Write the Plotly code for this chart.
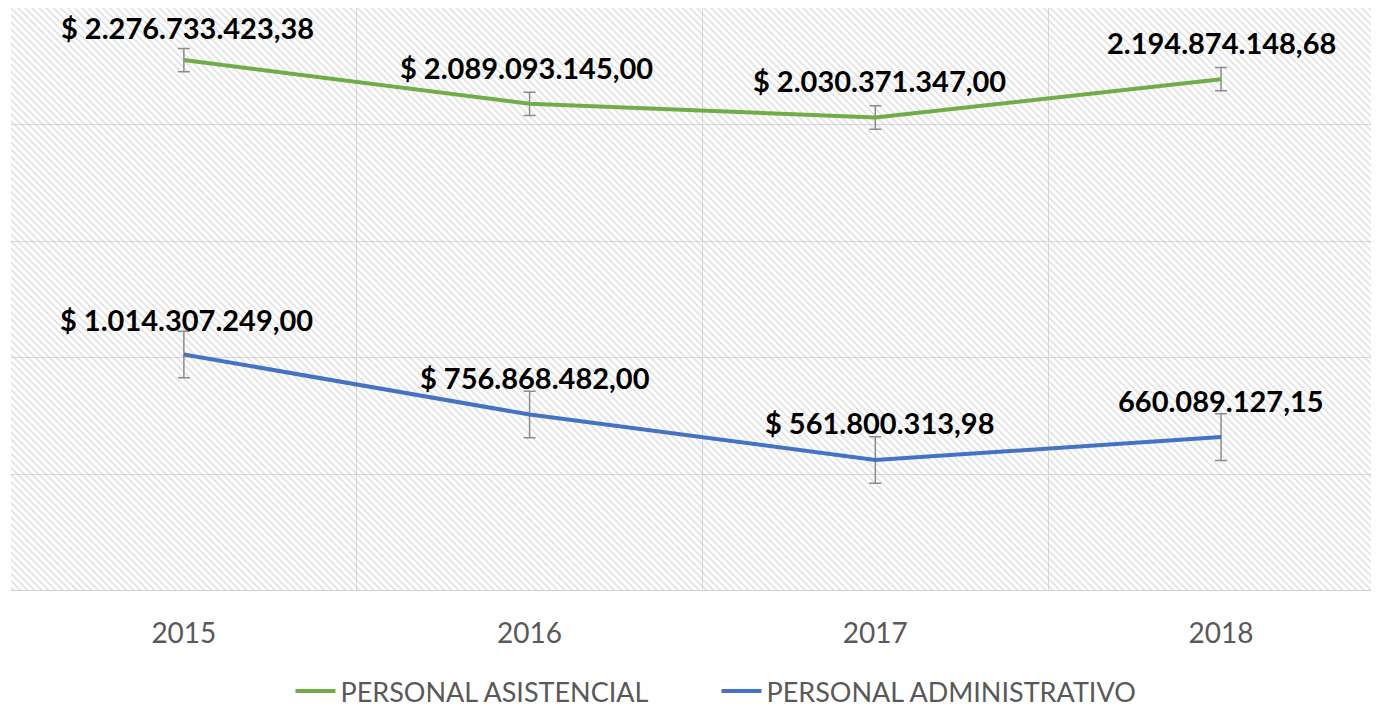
import plotly.graph_objects as go

years = ["2015", "2016", "2017", "2018"]
asistencial = [2276733423.38, 2089093145.00, 2030371347.00, 2194874148.68]
administrativo = [1014307249.00, 756868482.00, 561800313.98, 660089127.15]
asistencial_labels = ["$ 2.276.733.423,38", "$ 2.089.093.145,00", "$ 2.030.371.347,00", "2.194.874.148,68"]
administrativo_labels = ["$ 1.014.307.249,00", "$ 756.868.482,00", "$ 561.800.313,98", "660.089.127,15"]
asistencial_err = 50e6
administrativo_err = 100e6
Y_MAX = 2.5e9
Y_STEP = 5e8

GREEN = "#70ad47"
BLUE = "#4472c4"
FONT = "Lato"

fig = go.Figure()

# hatched plot-area background
fig.add_trace(go.Bar(
    x=years, y=[Y_MAX] * len(years), width=1,
    marker=dict(color="rgba(0,0,0,0)", line=dict(width=0),
                pattern=dict(shape="\\", fgcolor="#bdbdbd", bgcolor="rgba(0,0,0,0)",
                             size=5, solidity=0.3)),
    showlegend=False, hoverinfo="skip"))

fig.add_trace(go.Scatter(
    x=years, y=asistencial, mode="lines", name="PERSONAL ASISTENCIAL",
    line=dict(color=GREEN, width=4),
    error_y=dict(type="constant", value=asistencial_err, color="#8c8c8c", thickness=1.5, width=6)))
fig.add_trace(go.Scatter(
    x=years, y=administrativo, mode="lines", name="PERSONAL ADMINISTRATIVO",
    line=dict(color=BLUE, width=4),
    error_y=dict(type="constant", value=administrativo_err, color="#8c8c8c", thickness=1.5, width=6)))

green_shifts = [(4, 33), (-3, 36), (4, 37), (0, 37)]
blue_shifts = [(3, 35), (5, 37), (4, 37), (0, 37)]
for vals, labels, shifts in [(asistencial, asistencial_labels, green_shifts),
                             (administrativo, administrativo_labels, blue_shifts)]:
    for i, (v, t, (dx, dy)) in enumerate(zip(vals, labels, shifts)):
        fig.add_annotation(x=i, y=v, xref="x", yref="y", text=t, showarrow=False,
                           xshift=dx, yshift=dy, yanchor="middle", xanchor="center",
                           borderpad=0,
                           font=dict(family=FONT, size=29, color="#000000", weight="bold"))

fig.update_layout(
    width=1379, height=708,
    margin=dict(l=3, r=0, t=0, b=124),
    paper_bgcolor="white", plot_bgcolor="white",
    barmode="overlay",
    hovermode=False,
    font=dict(family=FONT, color="#595959"),
    legend=dict(orientation="h", x=0.5127, xanchor="center", y=-0.173, yanchor="middle",
                font=dict(family=FONT, size=27, color="#595959"), itemwidth=40,
                entrywidth=371, entrywidthmode="pixels"),
    xaxis=dict(type="category", range=[-0.5, 3.48], tickson="boundaries",
               showgrid=True, gridcolor="#d9d9d9", gridwidth=1,
               ticks="", ticklabelstandoff=23,
               tickfont=dict(family=FONT, size=28, color="#595959"),
               showline=False, zeroline=False),
    yaxis=dict(range=[0, Y_MAX], dtick=Y_STEP, tick0=0, showticklabels=False,
               showgrid=True, gridcolor="#d9d9d9", gridwidth=1,
               zeroline=False, showline=False),
)
fig.add_hline(y=0, line=dict(color="#d0d0d0", width=2))

fig.write_html("out.html")
